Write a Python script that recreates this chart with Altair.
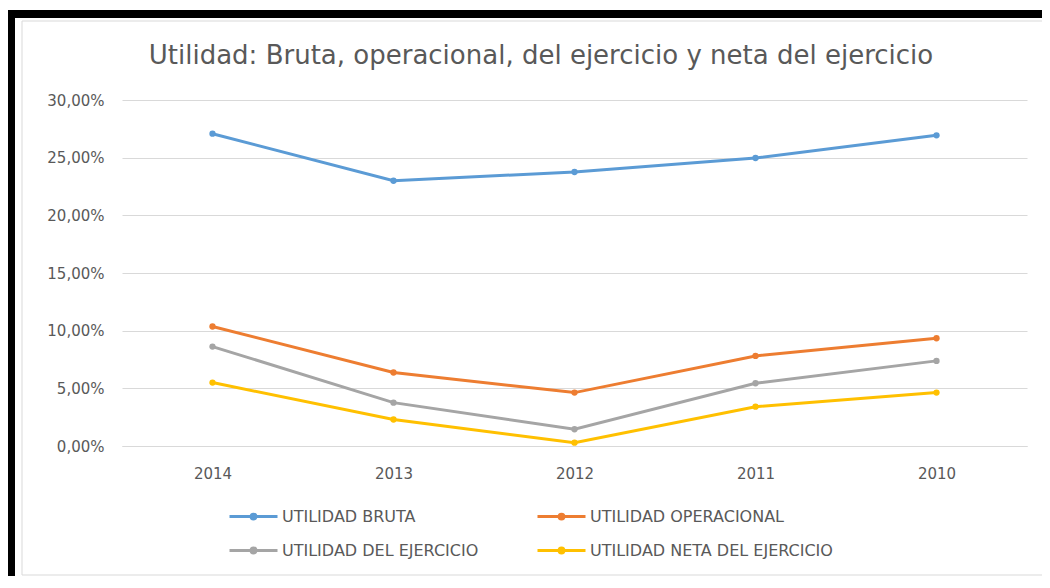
import altair as alt
import pandas as pd

years = ["2014", "2013", "2012", "2011", "2010"]
series_names = [
    "UTILIDAD BRUTA",
    "UTILIDAD OPERACIONAL",
    "UTILIDAD DEL EJERCICIO",
    "UTILIDAD NETA DEL EJERCICIO",
]
bruta = [0.2708, 0.2300, 0.2376, 0.2497, 0.2694]
operacional = [0.1036, 0.0637, 0.0463, 0.0781, 0.0934]
ejercicio = [0.0862, 0.0376, 0.0145, 0.0544, 0.0738]
neta = [0.0550, 0.0230, 0.0029, 0.0341, 0.0463]
colors = ["#5B9BD5", "#ED7D31", "#A5A5A5", "#FFC000"]
y_ticks = [0, 0.05, 0.10, 0.15, 0.20, 0.25, 0.30]
title_text = "Utilidad: Bruta, operacional, del ejercicio y neta del ejercicio"

rows = []
for name, vals in zip(series_names, [bruta, operacional, ejercicio, neta]):
    for yr, v in zip(years, vals):
        rows.append({"Año": yr, "Serie": name, "Valor": v})
df = pd.DataFrame(rows)

FONT = "DejaVu Sans"
TXT = "#595959"
W, H = 905, 346

legend_symbol = "M-1,0H1M0.1,0A0.1,0.1,0,1,1,-0.1,0A0.1,0.1,0,1,1,0.1,0Z"

color_enc = alt.Color(
    "Serie:N",
    scale=alt.Scale(domain=series_names, range=colors),
    legend=alt.Legend(
        title=None,
        orient="none",
        direction="horizontal",
        legendX=106,
        legendY=391,
        columns=2,
        columnPadding=52,
        rowPadding=-14,
        symbolType=legend_symbol,
        symbolSize=48 * 48,
        symbolStrokeWidth=3,
        labelFont=FONT,
        labelFontSize=16,
        labelColor=TXT,
        labelOffset=3,
        labelLimit=400,
    ),
)

x_enc = alt.X(
    "Año:N",
    sort=years,
    scale=alt.Scale(type="point", padding=0.5),
    axis=alt.Axis(
        title=None,
        labelAngle=0,
        labelFont=FONT,
        labelFontSize=15,
        labelColor=TXT,
        labelPadding=20,
        ticks=False,
        domainColor="#D9D9D9",
        domainWidth=1,
        grid=False,
    ),
)
y_enc = alt.Y(
    "Valor:Q",
    scale=alt.Scale(domain=[0, 0.30], nice=False, zero=True),
    axis=alt.Axis(
        title=None,
        values=y_ticks,
        labelExpr="replace(format(datum.value, '.2%'), '.', ',')",
        labelFont=FONT,
        labelFontSize=15,
        labelColor=TXT,
        labelPadding=18,
        ticks=False,
        domain=False,
        gridColor="#D9D9D9",
        gridWidth=1,
    ),
)

base = alt.Chart(df)
lines = base.mark_line(strokeWidth=3).encode(x=x_enc, y=y_enc, color=color_enc)
points = base.mark_point(filled=True, size=40, opacity=1).encode(
    x=x_enc, y=y_enc, color=color_enc
)

deco = alt.Data(values=[{"t": title_text}])
inner_frame = alt.Chart(deco).mark_rect(
    fillOpacity=0, stroke="#D9D9D9", strokeWidth=1
).encode(
    x=alt.value(-100), x2=alt.value(923), y=alt.value(-79), y2=alt.value(475)
)
outer_frame = alt.Chart(deco).mark_rect(
    fillOpacity=0, stroke="black", strokeWidth=8
).encode(
    x=alt.value(-111), x2=alt.value(1100), y=alt.value(-86), y2=alt.value(1100)
)
title = alt.Chart(deco).mark_text(
    font=FONT, fontSize=26, color=TXT, align="center", baseline="alphabetic"
).encode(text="t:N", x=alt.value(419), y=alt.value(-36))

chart = (
    alt.layer(inner_frame, lines, points, title, outer_frame)
    .properties(
        width=W,
        height=H,
        autosize=alt.AutoSizeParams(type="none"),
        padding={"left": 114, "top": 92, "right": 15, "bottom": 130},
        background="white",
    )
    .configure_view(stroke=None)
)

chart.save("out.html", embed_options={"renderer": "svg", "actions": False})
